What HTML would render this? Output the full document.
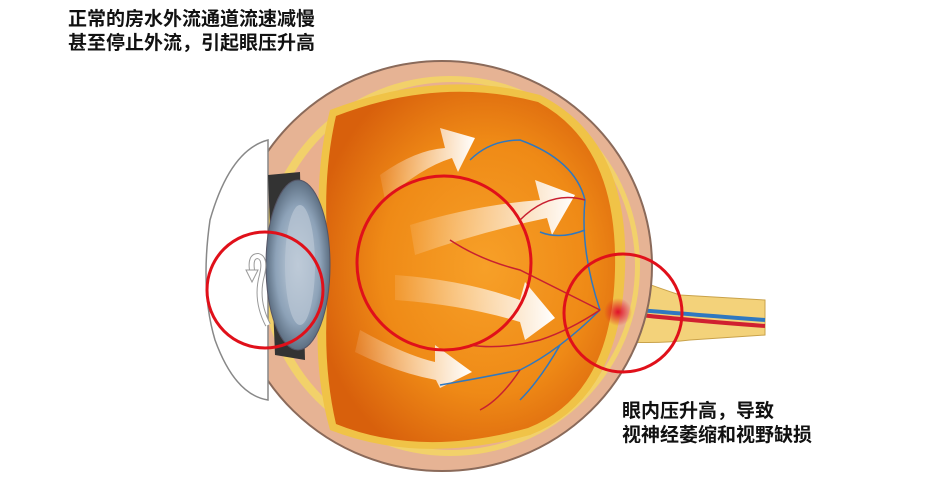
<!DOCTYPE html>
<html><head><meta charset="utf-8"><style>
html,body{margin:0;padding:0;background:#fff;width:934px;height:501px;overflow:hidden}
.t{position:absolute;font-family:"Liberation Sans","Noto Sans CJK SC",sans-serif;font-weight:bold;font-size:19px;line-height:24px;color:#111}
</style></head><body>
<svg width="934" height="501" style="position:absolute;left:0;top:0">
<defs>
<radialGradient id="og" cx="0.55" cy="0.5" r="0.6">
<stop offset="0" stop-color="#f7a028"/><stop offset="0.6" stop-color="#ef8a16"/><stop offset="1" stop-color="#d8600c"/></radialGradient>
<radialGradient id="lg" cx="0.5" cy="0.5" r="0.5">
<stop offset="0" stop-color="#c8d4e0"/><stop offset="0.7" stop-color="#8da2b8"/><stop offset="1" stop-color="#5d6f82"/></radialGradient>
<radialGradient id="rg" cx="0.5" cy="0.5" r="0.5">
<stop offset="0" stop-color="#e0102a"/><stop offset="1" stop-color="#e0102a" stop-opacity="0"/></radialGradient>
<linearGradient id="ag" x1="0" x2="1"><stop offset="0" stop-color="#fff" stop-opacity="0.1"/><stop offset="1" stop-color="#fff"/></linearGradient>
</defs>
<path d="M610 270 Q650 285 680 295 L765 300 L765 335 L690 340 Q650 345 600 340 Z" fill="#f3d27a" stroke="#c9a24a"/>
<path d="M615 308 Q660 312 765 320" stroke="#2f78c0" stroke-width="4" fill="none"/>
<path d="M615 312 Q660 318 765 326" stroke="#d02030" stroke-width="4" fill="none"/>
<ellipse cx="442" cy="266" rx="210" ry="205" fill="#e6b394" stroke="#8a6a5a" stroke-width="2"/>
<ellipse cx="450" cy="266" rx="190" ry="190" fill="#f2d16a"/>
<ellipse cx="452" cy="266" rx="183" ry="184" fill="#e9b08f"/>
<path d="M268 140 Q230 150 210 220 Q200 290 215 340 Q235 395 268 400 Z" fill="#fff" stroke="#888" stroke-width="1.5"/>
<path d="M330 110 Q440 68 540 95 Q630 140 625 270 Q620 400 530 435 Q420 465 330 430 Q310 360 322 270 Q312 180 330 110 Z" fill="#f0c347"/>
<path d="M336 116 Q440 76 538 102 Q618 145 615 270 Q612 395 528 428 Q420 458 336 424 Q320 355 330 270 Q320 185 336 116 Z" fill="url(#og)"/>
<path d="M268 175 L300 172 L305 360 L275 355 Z" fill="#333"/>
<ellipse cx="298" cy="265" rx="32" ry="85" fill="url(#lg)" stroke="#556" />
<ellipse cx="300" cy="265" rx="15" ry="60" fill="#b9c6d4" opacity="0.7"/>
<g fill="url(#ag)">
<path d="M380 175 Q415 150 445 148 L440 128 L475 138 L458 172 L452 158 Q420 168 385 200 Z"/>
<path d="M410 225 Q475 205 540 200 L535 180 L575 195 L552 235 L547 218 Q480 232 415 255 Z"/>
<path d="M395 275 Q465 280 520 300 L525 282 L555 318 L525 340 L520 322 Q465 305 395 300 Z"/>
<path d="M360 330 Q405 355 435 362 L435 345 L472 372 L440 388 L436 380 Q395 372 355 352 Z"/>
</g>
<g fill="none" stroke-width="1.5">
<path d="M600 310 Q580 250 585 200 Q575 160 520 140 Q490 140 470 160" stroke="#2f78c0"/>
<path d="M600 310 Q560 350 520 370 Q470 380 440 385" stroke="#2f78c0"/>
<path d="M600 310 Q560 290 520 270 Q480 260 450 240" stroke="#c82030"/>
<path d="M600 310 Q570 330 540 340 Q500 350 470 345" stroke="#c82030"/>
<path d="M585 200 Q550 190 520 220" stroke="#c82030"/>
<path d="M520 370 Q500 400 480 410" stroke="#c82030"/>
<path d="M585 230 Q560 240 540 232" stroke="#2f78c0"/>
<path d="M560 345 Q540 380 520 400" stroke="#2f78c0"/>
</g>
<ellipse cx="618" cy="312" rx="14" ry="14" fill="url(#rg)"/>
<path d="M268 325 Q255 300 262 275 Q266 258 258 256 Q250 256 252 270" stroke="#999" stroke-width="6" fill="none"/>
<path d="M268 325 Q255 300 262 275 Q266 258 258 256 Q250 256 252 270" stroke="#fff" stroke-width="4" fill="none"/>
<path d="M246 270 L258 270 L252 282 Z" fill="#fff" stroke="#999"/>
<g fill="none" stroke="#e0101a" stroke-width="3">
<circle cx="265" cy="290" r="58"/>
<circle cx="444" cy="263" r="87"/>
<circle cx="623" cy="313" r="59"/>
</g>
</svg>
<div class="t" style="left:68px;top:8px">正常的房水外流通道流速减慢<br>甚至停止外流，引起眼压升高</div>
<div class="t" style="left:622px;top:400px">眼内压升高，导致<br>视神经萎缩和视野缺损</div>
</body></html>
